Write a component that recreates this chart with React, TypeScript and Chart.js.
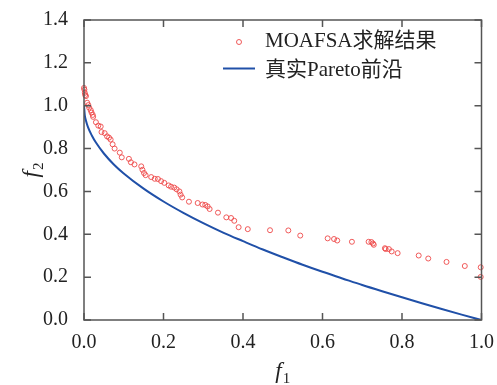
import React, { useEffect, useRef } from "react";
import { Chart, registerables } from "chart.js";

Chart.register(...registerables);

// MOAFSA solution points (f1, f2)
const solF1 = [0.000, 0.001, 0.002, 0.003, 0.005, 0.008, 0.011, 0.013, 0.017, 0.019, 0.022, 0.023, 0.030, 0.036, 0.042, 0.044, 0.052, 0.058, 0.063, 0.067, 0.072, 0.077, 0.090, 0.095, 0.113, 0.118, 0.127, 0.144, 0.147, 0.151, 0.155, 0.169, 0.178, 0.186, 0.194, 0.202, 0.213, 0.219, 0.227, 0.233, 0.240, 0.243, 0.247, 0.264, 0.286, 0.298, 0.305, 0.311, 0.316, 0.337, 0.358, 0.370, 0.378, 0.389, 0.412, 0.468, 0.514, 0.544, 0.613, 0.629, 0.637, 0.674, 0.716, 0.723, 0.727, 0.729, 0.757, 0.759, 0.767, 0.774, 0.789, 0.842, 0.866, 0.912, 0.958, 0.998, 0.998];
const solF2 = [1.083, 1.075, 1.06, 1.05, 1.045, 1.014, 1.003, 0.991, 0.979, 0.968, 0.957, 0.948, 0.923, 0.907, 0.903, 0.877, 0.872, 0.857, 0.851, 0.842, 0.82, 0.80, 0.781, 0.759, 0.752, 0.736, 0.726, 0.717, 0.701, 0.686, 0.676, 0.667, 0.659, 0.658, 0.648, 0.640, 0.628, 0.622, 0.618, 0.610, 0.600, 0.585, 0.572, 0.552, 0.546, 0.539, 0.537, 0.530, 0.518, 0.501, 0.479, 0.476, 0.463, 0.433, 0.424, 0.419, 0.418, 0.394, 0.381, 0.378, 0.371, 0.365, 0.365, 0.364, 0.357, 0.351, 0.335, 0.331, 0.331, 0.320, 0.312, 0.301, 0.287, 0.271, 0.252, 0.246, 0.201];

// True Pareto front
const paretoF1 = [0, 0.002, 0.005, 0.01, 0.02, 0.03, 0.05, 0.075, 0.1, 0.15, 0.2, 0.25, 0.3, 0.35, 0.4, 0.45, 0.5, 0.55, 0.6, 0.65, 0.7, 0.75, 0.8, 0.85, 0.9, 0.95, 1.0];
const paretoF2 = [1.0, 0.955, 0.93, 0.9, 0.86, 0.828, 0.777, 0.726, 0.684, 0.613, 0.553, 0.5, 0.452, 0.408, 0.368, 0.329, 0.293, 0.258, 0.225, 0.194, 0.163, 0.134, 0.106, 0.078, 0.051, 0.025, 0.0];

const xTicks = [0, 0.2, 0.4, 0.6, 0.8, 1.0];
const yTicks = [0, 0.2, 0.4, 0.6, 0.8, 1.0, 1.2, 1.4];

const legendLabels = ["MOAFSA求解结果", "真实Pareto前沿"];

const RED = "rgb(238,72,72)";
const BLUE = "rgb(32,80,168)";
const SERIF = "'Liberation Serif', 'Times New Roman', serif";
const CJK = "'Noto Sans CJK SC'";

const framePlugin = {
  id: "frame",
  afterDraw(chart: any) {
    const { ctx, chartArea: a, scales } = chart;
    const { left, right, top, bottom } = a;
    ctx.save();
    ctx.strokeStyle = "#555";
    ctx.lineWidth = 1.5;
    ctx.strokeRect(left, top, right - left, bottom - top);
    const tl = 7;
    ctx.beginPath();
    xTicks.forEach((v) => {
      const px = scales.x.getPixelForValue(v);
      ctx.moveTo(px, bottom);
      ctx.lineTo(px, bottom - tl);
      ctx.moveTo(px, top);
      ctx.lineTo(px, top + tl);
    });
    yTicks.forEach((v) => {
      const py = scales.y.getPixelForValue(v);
      ctx.moveTo(left, py);
      ctx.lineTo(left + tl, py);
      ctx.moveTo(right, py);
      ctx.lineTo(right - tl, py);
    });
    ctx.stroke();

    // axis titles
    ctx.fillStyle = "#222";
    ctx.textBaseline = "alphabetic";
    const drawTitle = (main: string, sub: string, x: number, y: number) => {
      ctx.font = `italic 23px ${SERIF}`;
      const w1 = ctx.measureText(main).width;
      ctx.font = `15px ${SERIF}`;
      const w2 = ctx.measureText(sub).width;
      const total = w1 + w2 + 1;
      ctx.font = `italic 23px ${SERIF}`;
      ctx.textAlign = "left";
      ctx.fillText(main, x - total / 2, y);
      ctx.font = `15px ${SERIF}`;
      ctx.fillText(sub, x - total / 2 + w1 + 1, y + 5);
    };
    drawTitle("f", "1", (left + right) / 2, 378);
    ctx.save();
    ctx.translate(38, (top + bottom) / 2);
    ctx.rotate(-Math.PI / 2);
    drawTitle("f", "2", 0, 0);
    ctx.restore();

    // legend
    ctx.font = `21px ${SERIF}, ${CJK}`;
    ctx.textAlign = "left";
    ctx.textBaseline = "middle";
    ctx.fillStyle = "#222";
    ctx.fillText(legendLabels[0], 265, 41);
    ctx.fillText(legendLabels[1], 265, 70);
    ctx.strokeStyle = RED;
    ctx.lineWidth = 0.9;
    ctx.beginPath();
    ctx.arc(239, 42, 2.5, 0, Math.PI * 2);
    ctx.stroke();
    ctx.strokeStyle = BLUE;
    ctx.lineWidth = 2;
    ctx.beginPath();
    ctx.moveTo(223, 68.5);
    ctx.lineTo(255, 68.5);
    ctx.stroke();
    ctx.restore();
  },
};

export default function App() {
  const ref = useRef<HTMLCanvasElement | null>(null);
  useEffect(() => {
    document.body.style.margin = "0";
    if (!ref.current) return;
    const chart = new Chart(ref.current, {
      type: "scatter",
      data: {
        datasets: [
          {
            label: legendLabels[0],
            data: solF1.map((x, i) => ({ x, y: solF2[i] })),
            pointStyle: "circle",
            pointRadius: 2.5,
            borderWidth: 0.9,
            borderColor: RED,
            backgroundColor: "rgba(0,0,0,0)",
            clip: false as any,
          },
          {
            label: legendLabels[1],
            data: paretoF1.map((x, i) => ({ x, y: paretoF2[i] })),
            showLine: true,
            pointRadius: 0,
            borderColor: BLUE,
            borderWidth: 2,
            tension: 0.3,
            cubicInterpolationMode: "monotone",
          },
        ],
      },
      options: {
        animation: false,
        responsive: false,
        events: [],
        layout: { padding: { left: 0, top: 14, right: 14, bottom: 0 } },
        plugins: { legend: { display: false }, tooltip: { enabled: false } },
        scales: {
          x: {
            type: "linear",
            min: 0,
            max: 1,
            afterFit: (s: any) => {
              s.height = 65;
            },
            afterBuildTicks: (s: any) => {
              s.ticks = xTicks.map((v) => ({ value: v }));
            },
            grid: { display: false },
            border: { display: false },
            ticks: {
              padding: 3,
              color: "#222",
              font: { family: SERIF, size: 20 },
              callback: (v: any) => Number(v).toFixed(1),
              maxRotation: 0,
            },
          },
          y: {
            type: "linear",
            min: 0,
            max: 1.4,
            afterFit: (s: any) => {
              s.width = 84;
            },
            afterBuildTicks: (s: any) => {
              s.ticks = yTicks.map((v) => ({ value: v }));
            },
            grid: { display: false },
            border: { display: false },
            ticks: {
              padding: 8,
              color: "#222",
              font: { family: SERIF, size: 20 },
              callback: (v: any) => Number(v).toFixed(1),
            },
          },
        },
      },
      plugins: [framePlugin],
    });
    return () => chart.destroy();
  }, []);
  return (
    <div style={{ width: 497, height: 385 }}>
      <canvas ref={ref} width={497} height={385} />
    </div>
  );
}
